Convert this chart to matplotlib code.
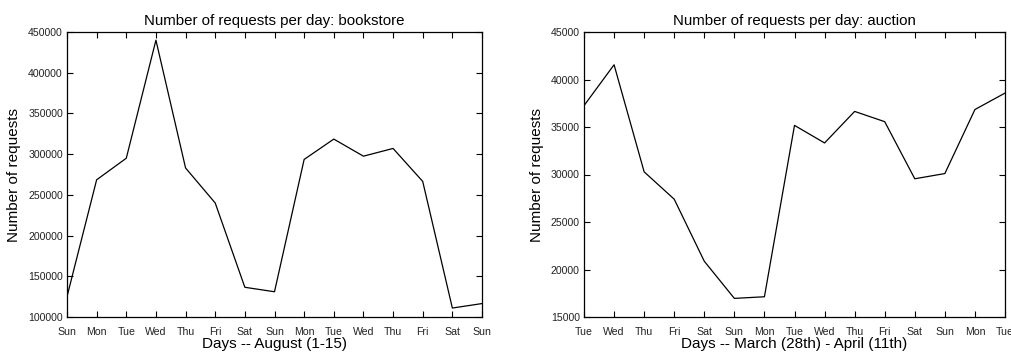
import matplotlib
matplotlib.use("Agg")
import matplotlib.pyplot as plt

plt.rcParams['font.family'] = ['Liberation Sans', 'DejaVu Sans']

# Daily request counts, bookstore workload (August 1-15)
bookstore_days = ["Sun", "Mon", "Tue", "Wed", "Thu", "Fri", "Sat",
                  "Sun", "Mon", "Tue", "Wed", "Thu", "Fri", "Sat", "Sun"]
bookstore_requests = [125000, 268500, 295000, 440000, 283000, 240000, 136500,
                      131000, 293500, 318500, 297500, 307000, 266500, 111000, 116500]

# Daily request counts, auction workload (March 28th - April 11th)
auction_days = ["Tue", "Wed", "Thu", "Fri", "Sat", "Sun", "Mon",
                "Tue", "Wed", "Thu", "Fri", "Sat", "Sun", "Mon", "Tue"]
auction_requests = [37250, 41550, 30280, 27400, 20870, 16960, 17130,
                    35170, 33320, 36640, 35560, 29550, 30100, 36840, 38570]

bookstore_yticks = [100000, 150000, 200000, 250000, 300000, 350000, 400000, 450000]
auction_yticks = [15000, 20000, 25000, 30000, 35000, 40000, 45000]

W, H = 1011, 356
fig = plt.figure(figsize=(W / 100, H / 100), dpi=100)


def panel(left, right, days, values, yticks, title, xlabel):
    top, bottom = 32, 317
    ax = fig.add_axes([left / W, 1 - bottom / H, (right - left) / W, (bottom - top) / H])
    x = list(range(len(days)))
    ax.plot(x, values, color="black", linewidth=0.9)
    ax.set_xlim(0, len(days) - 1)
    ax.set_ylim(yticks[0], yticks[-1])
    ax.set_xticks(x)
    ax.set_xticklabels(days)
    ax.set_yticks(yticks)
    ax.set_yticklabels([str(v) for v in yticks])
    ax.tick_params(direction="in", length=4, width=0.8, labelsize=7.6,
                   top=True, right=True, colors="black", labelcolor="#222222")
    ax.tick_params(axis="x", pad=7)
    ax.tick_params(axis="y", pad=3)
    for s in ax.spines.values():
        s.set_linewidth(0.9)
    ax.set_title(title, fontsize=10.8, pad=5)
    ax.set_xlabel(xlabel, fontsize=11, labelpad=0)
    ax.set_ylabel("Number of requests", fontsize=11, labelpad=5)
    return ax


panel(67, 482, bookstore_days, bookstore_requests, bookstore_yticks,
      "Number of requests per day: bookstore", "Days -- August (1-15)")
panel(584, 1005, auction_days, auction_requests, auction_yticks,
      "Number of requests per day: auction", "Days -- March (28th) - April (11th)")

fig.savefig("out.png", dpi=100)
